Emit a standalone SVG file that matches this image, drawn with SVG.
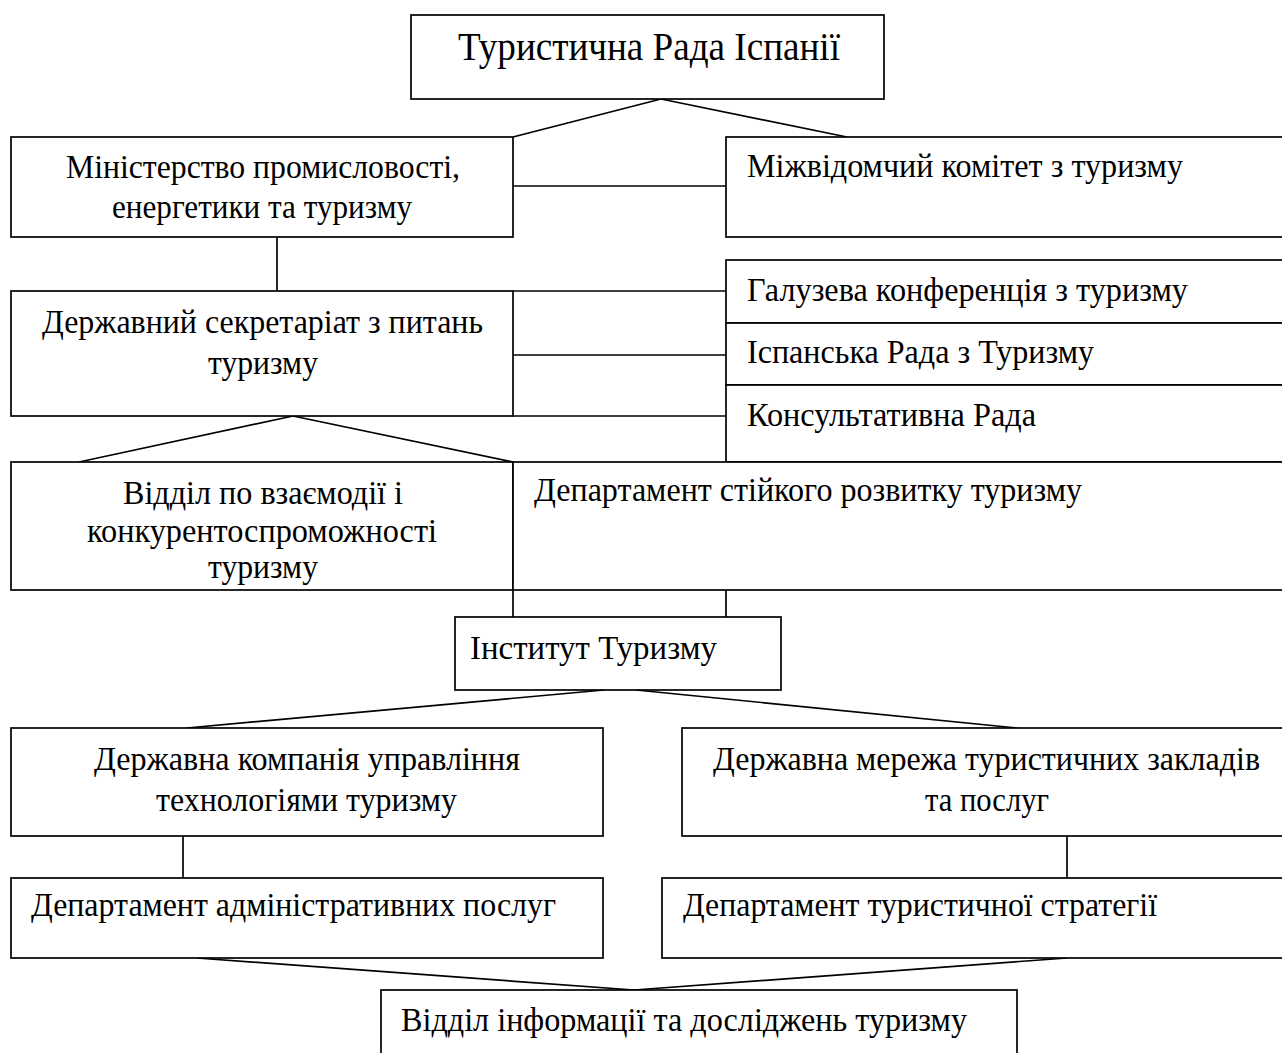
<svg xmlns="http://www.w3.org/2000/svg" width="1282" height="1053" viewBox="0 0 1282 1053">
<style>
.box{fill:#fff;stroke:#000;stroke-width:1.7}
.ln{fill:none;stroke:#000;stroke-width:1.7}
text{font-family:"Liberation Serif","Times New Roman",serif;font-size:33px;fill:#000}
.t{font-size:40px}
</style>
<rect width="1282" height="1053" fill="#fff"/>
<g id="connectors">
<line class="ln" x1="661" y1="99" x2="513" y2="137"/>
<line class="ln" x1="661" y1="99" x2="847" y2="137"/>
<line class="ln" x1="513" y1="186" x2="726" y2="186"/>
<line class="ln" x1="277" y1="237" x2="277" y2="291"/>
<line class="ln" x1="513" y1="291" x2="726" y2="291"/>
<line class="ln" x1="513" y1="355" x2="726" y2="355"/>
<line class="ln" x1="513" y1="416" x2="726" y2="416"/>
<line class="ln" x1="293" y1="416" x2="79" y2="462"/>
<line class="ln" x1="293" y1="416" x2="513" y2="462"/>
<line class="ln" x1="513" y1="590" x2="513" y2="617"/>
<line class="ln" x1="726" y1="590" x2="726" y2="617"/>
<line class="ln" x1="604" y1="690" x2="187" y2="728"/>
<line class="ln" x1="636" y1="690" x2="1017" y2="728"/>
<line class="ln" x1="183" y1="836" x2="183" y2="878"/>
<line class="ln" x1="1067" y1="836" x2="1067" y2="878"/>
<line class="ln" x1="197" y1="958" x2="634" y2="990"/>
<line class="ln" x1="1067" y1="958" x2="634" y2="990"/>
</g>
<g id="n-council">
<rect class="box" x="411" y="15" width="473" height="84"/>
<text class="t" x="458" y="60" textLength="382" lengthAdjust="spacingAndGlyphs">Туристична Рада Іспанії</text>
</g>
<g id="n-ministry">
<rect class="box" x="11" y="137" width="502" height="100"/>
<text x="66" y="178" textLength="394" lengthAdjust="spacingAndGlyphs">Міністерство промисловості,</text>
<text x="112" y="218" textLength="300" lengthAdjust="spacingAndGlyphs">енергетики та туризму</text>
</g>
<g id="n-committee">
<rect class="box" x="726" y="137" width="560" height="100"/>
<text x="747" y="177" textLength="436" lengthAdjust="spacingAndGlyphs">Міжвідомчий комітет з туризму</text>
</g>
<g id="n-secretariat">
<rect class="box" x="11" y="291" width="502" height="125"/>
<text x="42" y="333" textLength="441" lengthAdjust="spacingAndGlyphs">Державний секретаріат з питань</text>
<text x="208" y="374" textLength="110" lengthAdjust="spacingAndGlyphs">туризму</text>
</g>
<g id="n-conference">
<rect class="box" x="726" y="260" width="560" height="63"/>
<text x="747" y="301" textLength="441" lengthAdjust="spacingAndGlyphs">Галузева конференція з туризму</text>
</g>
<g id="n-spanish-council">
<rect class="box" x="726" y="323" width="560" height="62"/>
<text x="747" y="363" textLength="347" lengthAdjust="spacingAndGlyphs">Іспанська Рада з Туризму</text>
</g>
<g id="n-advisory">
<rect class="box" x="726" y="385" width="560" height="77"/>
<text x="747" y="426" textLength="289" lengthAdjust="spacingAndGlyphs">Консультативна Рада</text>
</g>
<g id="n-interaction">
<rect class="box" x="11" y="462" width="502" height="128"/>
<text x="123" y="504" textLength="280" lengthAdjust="spacingAndGlyphs">Відділ по взаємодії і</text>
<text x="87" y="542" textLength="350" lengthAdjust="spacingAndGlyphs">конкурентоспроможності</text>
<text x="208" y="578" textLength="110" lengthAdjust="spacingAndGlyphs">туризму</text>
</g>
<g id="n-sustainable">
<rect class="box" x="513" y="462" width="773" height="128"/>
<text x="534" y="501" textLength="548" lengthAdjust="spacingAndGlyphs">Департамент стійкого розвитку туризму</text>
</g>
<g id="n-institute">
<rect class="box" x="455" y="617" width="326" height="73"/>
<text x="470" y="659" textLength="247" lengthAdjust="spacingAndGlyphs">Інститут Туризму</text>
</g>
<g id="n-company">
<rect class="box" x="11" y="728" width="592" height="108"/>
<text x="94" y="770" textLength="426" lengthAdjust="spacingAndGlyphs">Державна компанія управління</text>
<text x="156" y="811" textLength="301" lengthAdjust="spacingAndGlyphs">технологіями туризму</text>
</g>
<g id="n-network">
<rect class="box" x="682" y="728" width="604" height="108"/>
<text x="713" y="770" textLength="547" lengthAdjust="spacingAndGlyphs">Державна мережа туристичних закладів</text>
<text x="925" y="811" textLength="124" lengthAdjust="spacingAndGlyphs">та послуг</text>
</g>
<g id="n-admin">
<rect class="box" x="11" y="878" width="592" height="80"/>
<text x="31" y="916" textLength="525" lengthAdjust="spacingAndGlyphs">Департамент адміністративних послуг</text>
</g>
<g id="n-strategy">
<rect class="box" x="662" y="878" width="624" height="80"/>
<text x="683" y="916" textLength="474" lengthAdjust="spacingAndGlyphs">Департамент туристичної стратегії</text>
</g>
<g id="n-info">
<rect class="box" x="381" y="990" width="636" height="70"/>
<text x="401" y="1031" textLength="566" lengthAdjust="spacingAndGlyphs">Відділ інформації та досліджень туризму</text>
</g>
</svg>
